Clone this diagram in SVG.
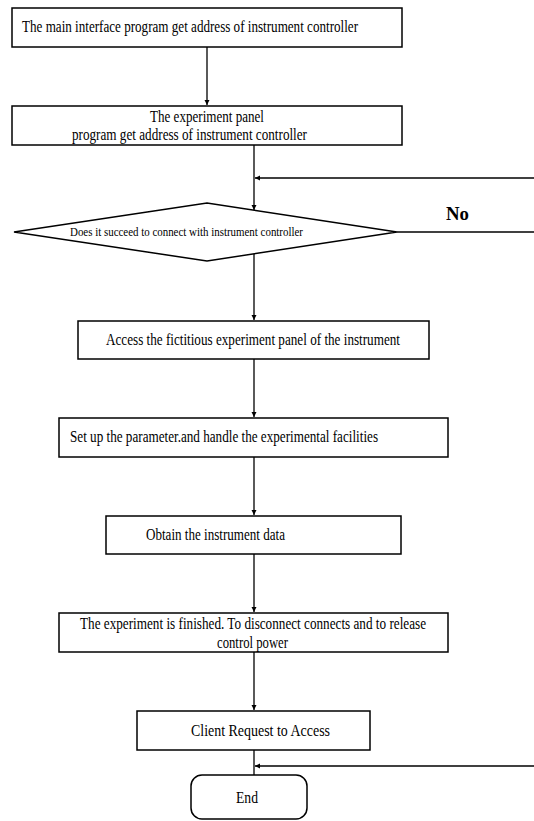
<svg xmlns="http://www.w3.org/2000/svg" width="534" height="821" viewBox="0 0 534 821">
<defs>
<marker id="arr" viewBox="0 0 10 10" refX="10" refY="5" markerWidth="5" markerHeight="6" orient="auto" markerUnits="userSpaceOnUse">
<path d="M0,0 L10,5 L0,10 z" fill="#000"/>
</marker>
</defs>
<style>
.box{fill:#fff;stroke:#000;stroke-width:1.5}
.t{font-family:"Liberation Serif","Times New Roman",serif;font-size:16.5px;fill:#000}
.s{font-family:"Liberation Serif","Times New Roman",serif;font-size:12px;fill:#000}
.c{fill:none;stroke:#000;stroke-width:1.3}
</style>
<rect width="534" height="821" fill="#fff"/>
<g id="connectors">
<line class="c" x1="207" y1="47" x2="207" y2="105" marker-end="url(#arr)"/>
<line class="c" x1="254" y1="145" x2="254" y2="210" marker-end="url(#arr)"/>
<line class="c" x1="534" y1="178" x2="255" y2="178" marker-end="url(#arr)"/>
<line class="c" x1="397" y1="232" x2="534" y2="232"/>
<line class="c" x1="254" y1="254" x2="254" y2="320" marker-end="url(#arr)"/>
<line class="c" x1="254" y1="359" x2="254" y2="417" marker-end="url(#arr)"/>
<line class="c" x1="254" y1="457" x2="254" y2="515" marker-end="url(#arr)"/>
<line class="c" x1="254" y1="554" x2="254" y2="612" marker-end="url(#arr)"/>
<line class="c" x1="254" y1="652" x2="254" y2="710" marker-end="url(#arr)"/>
<line class="c" x1="254" y1="750" x2="254" y2="775"/>
<line class="c" x1="534" y1="766" x2="255" y2="766" marker-end="url(#arr)"/>
<text x="446" y="220" font-family="'Liberation Serif',serif" font-weight="bold" font-size="19" textLength="23" lengthAdjust="spacingAndGlyphs">No</text>
</g>
<g id="n1">
<rect class="box" x="12" y="8" width="390" height="39"/>
<text class="t" x="22" y="32" textLength="336" lengthAdjust="spacingAndGlyphs">The main interface program get address of instrument controller</text>
</g>
<g id="n2">
<rect class="box" x="12" y="106" width="390" height="39"/>
<text class="t" x="150" y="122" textLength="114" lengthAdjust="spacingAndGlyphs">The experiment panel</text>
<text class="t" x="72" y="140" textLength="235" lengthAdjust="spacingAndGlyphs">program get address of instrument controller</text>
</g>
<g id="n3">
<polygon class="box" points="14,232 207,203 397,232 207,261"/>
<text class="s" x="70" y="236" textLength="233" lengthAdjust="spacingAndGlyphs">Does it succeed to connect with instrument controller</text>
</g>
<g id="n4">
<rect class="box" x="78" y="321" width="351" height="38"/>
<text class="t" x="106" y="345" textLength="294" lengthAdjust="spacingAndGlyphs">Access the fictitious experiment panel of the instrument</text>
</g>
<g id="n5">
<rect class="box" x="59" y="418" width="389" height="39"/>
<text class="t" x="70" y="442" textLength="308" lengthAdjust="spacingAndGlyphs">Set up the parameter.and handle the experimental facilities</text>
</g>
<g id="n6">
<rect class="box" x="106" y="516" width="295" height="38"/>
<text class="t" x="146" y="540" textLength="139" lengthAdjust="spacingAndGlyphs">Obtain the instrument data</text>
</g>
<g id="n7">
<rect class="box" x="59" y="613" width="389" height="39"/>
<text class="t" x="80" y="629" textLength="346" lengthAdjust="spacingAndGlyphs">The experiment is finished. To disconnect connects and to release</text>
<text class="t" x="217" y="648" textLength="71" lengthAdjust="spacingAndGlyphs">control power</text>
</g>
<g id="n8">
<rect class="box" x="137" y="711" width="233" height="39"/>
<text class="t" x="191" y="736" textLength="139" lengthAdjust="spacingAndGlyphs">Client Request to Access</text>
</g>
<g id="n9">
<rect class="box" x="191" y="775" width="116" height="44" rx="11" ry="11"/>
<text class="t" x="236" y="803" textLength="22" lengthAdjust="spacingAndGlyphs">End</text>
</g>
</svg>
